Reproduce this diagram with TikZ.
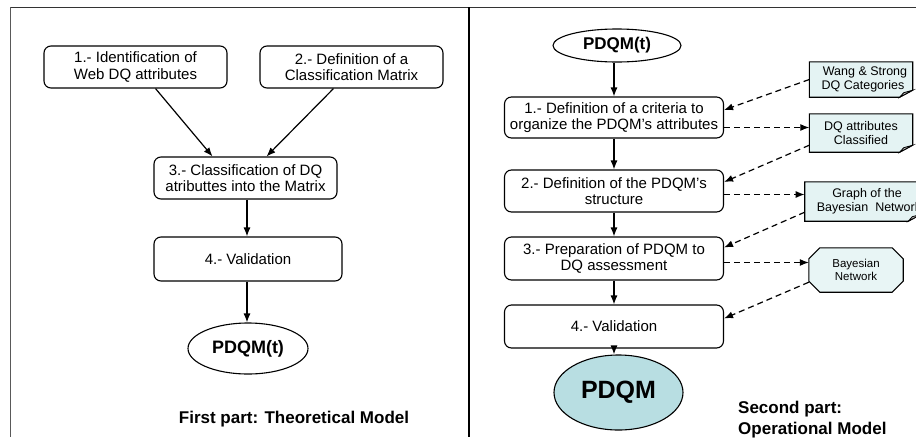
\documentclass[tikz,border=0pt]{standalone}
\usepackage{fontspec}
\setmainfont{Liberation Sans}
\usetikzlibrary{arrows.meta,shapes.geometric,backgrounds,calc}
\definecolor{notefill}{RGB}{228,243,243}
\definecolor{octfill}{RGB}{232,245,245}
\definecolor{pdqmfill}{RGB}{184,222,226}
\begin{document}
\begin{tikzpicture}[x=1pt,y=-1pt,
  box/.style={draw, rounded corners=7pt, line width=1.1pt, align=center, inner sep=0pt,
    font=\fontsize{15}{16.5}\selectfont},
  ell/.style={ellipse, draw, line width=1.1pt, inner sep=0pt, font=\bfseries\fontsize{17}{20}\selectfont},
  notebox/.style={inner sep=0pt, align=center, font=\fontsize{12.5}{13.5}\selectfont},
  octbox/.style={inner sep=0pt, align=center, font=\fontsize{11.5}{13}\selectfont},
  arr/.style={-{Latex[length=9pt,width=7pt]}, line width=1.2pt},
  darr/.style={arr, dash pattern=on 6pt off 4pt},
  notebd/.style={draw, line width=1.1pt, fill=notefill},
  lbl/.style={inner sep=0pt, font=\bfseries\fontsize{17}{21}\selectfont}
]
\useasboundingbox (0,0) rectangle (916,437);

% frame
\draw[line width=1.6pt, black!80] (10,7.5) -- (916,7.5);
\draw[line width=1.5pt, black!65] (10.5,7) -- (10.5,437);
\draw[line width=1.8pt] (469,7) -- (469,437);

% ---------- left part ----------
\node[box, minimum width=183pt, minimum height=42pt] (l1) at (135.5,67) {1.- Identification of\\Web DQ attributes};
\node[box, minimum width=183pt, minimum height=42pt] (l2) at (351.5,67) {2.- Definition of a\\Classification Matrix};
\node[box, minimum width=183pt, minimum height=42pt] (l3) at (245.5,178) {3.- Classification of DQ\\atributtes into the Matrix};
\node[box, minimum width=188pt, minimum height=44pt] (l4) at (248,259) {4.- Validation};
\node[ell, minimum width=120pt, minimum height=51pt, font=\bfseries\fontsize{18}{20}\selectfont] (le) at (248,348.5) {PDQM(t)};
\node[lbl, anchor=base] (lt) at (294,423) {First part: Theoretical Model};

\draw[arr] ([xshift=20pt]l1.south) -- ([xshift=-33pt]l3.north);
\draw[arr] ([xshift=-18pt]l2.south) -- ([xshift=21pt]l3.north);
\draw[arr] ([xshift=1.5pt]l3.south) -- ([xshift=1.5pt]l3.south |- l4.north);
\draw[arr] ([xshift=-1pt]l4.south) -- ([xshift=-1pt]l4.south |- le.north);

% ---------- right part ----------
\node[ell, minimum width=128pt, minimum height=33pt] (re0) at (617,45.5) {PDQM(t)};
\node[box, minimum width=219pt, minimum height=41pt] (r1) at (614,117.5) {1.- Definition of a criteria to\\organize the PDQM’s attributes};
\node[box, minimum width=219pt, minimum height=42pt] (r2) at (614,191) {2.- Definition of the PDQM’s\\structure};
\node[box, minimum width=219pt, minimum height=43pt] (r3) at (614,258.5) {3.- Preparation of PDQM to\\DQ assessment};
\node[box, minimum width=219pt, minimum height=43pt] (r4) at (614,326.5) {4.- Validation};
\node[ell, fill=pdqmfill, minimum width=129pt, minimum height=75pt, font=\bfseries\fontsize{25}{28}\selectfont] (re) at (618.5,392.5) {PDQM};
\node[lbl, anchor=north west, align=left] (rt) at (738,400.5) {Second part:\\Operational Model};

\draw[arr] (r1.north |- re0.south) -- (r1.north);
\draw[arr] (r1.south) -- (r2.north);
\draw[arr] (r2.south) -- (r3.north);
\draw[arr] (r3.south) -- (r4.north);
\draw[arr] (r4.south) -- (r4.south |- re.north);

% notes
\node[notebox, minimum width=103pt, minimum height=35pt] (n1) at (861,79.5) {\hspace*{8pt}Wang \& Strong\\\hspace*{4pt}DQ Categories};
\node[notebox, minimum width=103pt, minimum height=38pt] (n2) at (861,133) {DQ attributes\\Classified};
\node[notebox, minimum width=108pt, minimum height=39pt] (n3) at (863,201.5) {\hspace*{8pt}Graph of the\\\hspace*{12pt}Bayesian\ \ Network};
\node[octbox, minimum width=94pt, minimum height=44pt] (oc) at (856,270) {Bayesian\\Network};

\begin{scope}[on background layer]
\fill[white] (0,0) rectangle (916,437);
\foreach \n in {n1,n2,n3}{
  \draw[notebd] (\n.north west) -- (\n.north east) -- ([yshift=7pt]\n.south east)
     -- ([xshift=-13pt]\n.south east) -- (\n.south west) -- cycle;
  \filldraw[fill=black!25, line width=0.8pt] ([xshift=-13pt]\n.south east) -- ([xshift=-9pt,yshift=4.5pt]\n.south east) -- ([yshift=7pt]\n.south east) -- cycle;
}
\filldraw[fill=octfill, line width=1.1pt]
  ([xshift=11pt]oc.north west) -- ([xshift=-11pt]oc.north east) -- ([yshift=-11pt]oc.north east)
  -- ([yshift=11pt]oc.south east) -- ([xshift=-11pt]oc.south east) -- ([xshift=11pt]oc.south west)
  -- ([yshift=11pt]oc.south west) -- ([yshift=-11pt]oc.north west) -- cycle;
\end{scope}

% dashed connectors
\draw[darr] (n1.west) -- ([yshift=7.5pt]r1.east);
\coordinate (p1) at ([yshift=-10pt]r1.east);
\draw[darr] (p1) -- (p1 -| n2.west);
\draw[darr] ([yshift=7pt]n2.south west) -- ([yshift=9pt]r2.east);
\coordinate (p2) at ([yshift=-3.5pt]r2.east);
\draw[darr] (p2) -- (p2 -| n3.west);
\draw[darr] ([yshift=9pt]n3.south west) -- ([yshift=11pt]r3.east);
\coordinate (p3) at ([yshift=-4pt]r3.east);
\draw[darr] (p3) -- (p3 -| oc.west);
\draw[darr] ([yshift=10pt]oc.south west) -- ([yshift=8pt]r4.east);
\end{tikzpicture}
\end{document}
